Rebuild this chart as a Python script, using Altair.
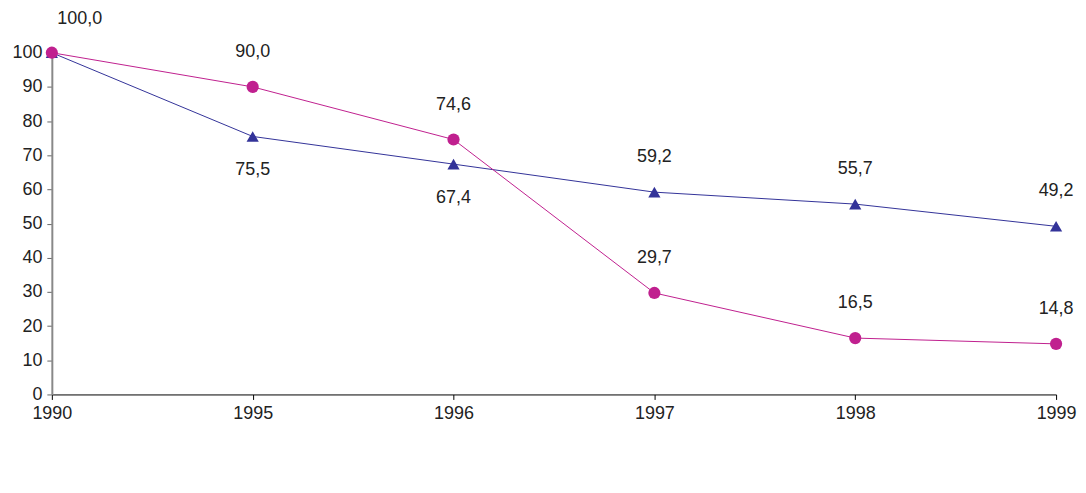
import altair as alt
import pandas as pd

years = ["1990", "1995", "1996", "1997", "1998", "1999"]
kz_values = [100.0, 75.5, 67.4, 59.2, 55.7, 49.2]
coal_values = [100.0, 90.0, 74.6, 29.7, 16.5, 14.8]
series_names = [
    "Численность персонала по Республике Казахстан, в % к 1990 году",
    "Численность персонала угольной промышленности, в % к 1990 году",
]
series_colors = ["#333399", "#C0208F"]
series_shapes = ["triangle-up", "circle"]
y_ticks = list(range(0, 101, 10))

rows = []
for i, yr in enumerate(years):
    for s, vals, other in [(0, kz_values, coal_values), (1, coal_values, kz_values)]:
        rows.append(dict(year=yr, series=series_names[s], value=vals[i],
                         above=bool(s == 1 or vals[i] >= other[i]), order=s))
df = pd.DataFrame(rows)
df["label"] = df["value"].map(lambda v: f"{v:.1f}".replace(".", ","))
df["series_leg"] = df["series"]

FONT = "Liberation Sans"
FS = 18

x = alt.X("year:O", sort=years, scale=alt.Scale(type="point", padding=0),
          axis=alt.Axis(title=None, labelAngle=0, labelFontSize=FS, labelColor="#222222",
                        labelPadding=5, domainColor="#000000", tickColor="#000000",
                        tickSize=5, labelFont=FONT))
y = alt.Y("value:Q", scale=alt.Scale(domain=[0, 100], nice=False),
          axis=alt.Axis(title=None, values=y_ticks, grid=False, labelFontSize=FS,
                        labelColor="#222222", labelPadding=5, domainColor="#888888",
                        domainWidth=2, tickColor="#666666", tickSize=5, labelFont=FONT))

color = alt.Color("series:N", scale=alt.Scale(domain=series_names, range=series_colors),
                  legend=None)

base = alt.Chart(df)

lines = base.mark_line(strokeWidth=1).encode(x=x, y=y, color=color)

tri_points = base.transform_filter("datum.order == 0").mark_point(
    filled=True, opacity=1, size=150, strokeWidth=0, shape="triangle-up").encode(
    x=x, y=y, color=color)
circ_points = base.transform_filter("datum.order == 1").mark_point(
    filled=True, opacity=1, size=150, strokeWidth=0, shape="circle").encode(
    x=x, y=y, color=color)

leg = alt.Legend(
    orient="none", legendX=262, legendY=392, title=None,
    symbolSize=150, labelFont=FONT, labelFontSize=18,
    labelColor="#222222", rowPadding=10, padding=0, labelOffset=22, labelLimit=1000,
)
# legend carrier: its own marks sit outside the clipped plot area, only its legend shows
legend_layer = base.mark_point(
    filled=True, opacity=1, size=150, clip=True).encode(
    x=x, y=alt.value(-60),
    color=alt.Color("series_leg:N", scale=alt.Scale(domain=series_names, range=series_colors),
                    legend=leg),
    shape=alt.Shape("series_leg:N", scale=alt.Scale(domain=series_names, range=series_shapes),
                    legend=leg),
)

txt_kw = dict(fontSize=FS, color="#222222", font=FONT)
above = base.transform_filter("datum.above && datum.year != '1990'").mark_text(dy=-35, **txt_kw).encode(
    x=x, y=y, text="label:N")
below = base.transform_filter("!datum.above").mark_text(dy=34, **txt_kw).encode(
    x=x, y=y, text="label:N")
first = base.transform_filter("datum.order == 1 && datum.year == '1990'").mark_text(dy=-34, dx=28, **txt_kw).encode(
    x=x, y=y, text="label:N")

chart = alt.layer(lines, tri_points, circ_points, legend_layer, above, below, first).properties(
    width=1008, height=343, autosize="none",
    padding={"left": 44, "top": 44, "right": 22, "bottom": 90},
).configure(font=FONT).configure_view(stroke=None)

chart.save("out.html", embed_options={"renderer": "svg", "actions": False})
